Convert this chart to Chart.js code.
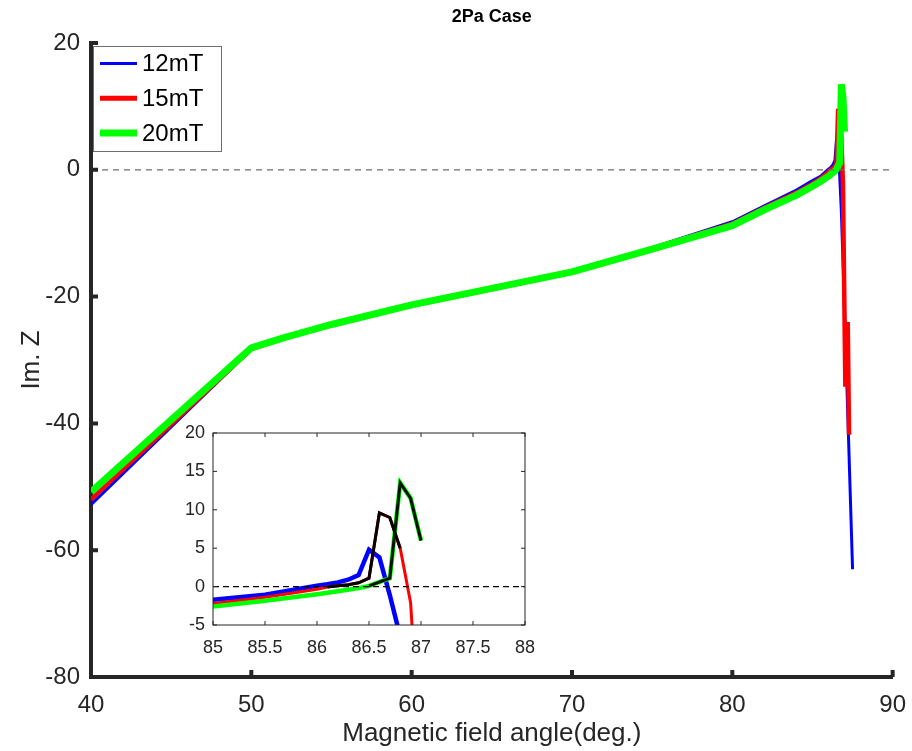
<!DOCTYPE html>
<html><head><meta charset="utf-8">
<script src="https://cdn.jsdelivr.net/npm/chart.js@4/dist/chart.umd.min.js"></script>
<style>
html,body{margin:0;padding:0;background:#fff;}
#wrap{position:relative;width:912px;height:751px;overflow:hidden;}
#mainBox{position:absolute;left:0;top:0;width:912px;height:751px;}
#insetBox{position:absolute;left:150px;top:415px;width:390px;height:255px;}
</style></head><body>
<div id="wrap">
<div id="mainBox"><canvas id="main"></canvas></div>
<div id="insetBox"><canvas id="inset"></canvas></div>
</div>
<script>
// ---------------- data ----------------
const seriesLabels = ['12mT', '15mT', '20mT'];
const xTicksMain = [40, 50, 60, 70, 80, 90];
const yTicksMain = [-80, -60, -40, -20, 0, 20];
const xTicksInset = [85, 85.5, 86, 86.5, 87, 87.5, 88];
const yTicksInset = [-5, 0, 5, 10, 15, 20];

const angles12 = [40, 50, 52, 55, 60, 65, 70, 75, 80, 82, 84, 85, 85.5, 86, 86.1, 86.2, 86.3, 86.4, 86.5, 86.6, 86.7, 86.8, 87.0, 87.25, 87.5];
const imZ12    = [-52.8, -28.3, -26.6, -24.5, -21.4, -18.8, -16.2, -12.3, -8.2, -5.7, -3.2, -1.7, -1.05, 0.1, 0.3, 0.55, 0.9, 1.5, 4.8, 3.8, -1.1, -6.5, -22.0, -42.5, -63.0];

const angles15 = [40, 50, 52, 55, 60, 65, 70, 75, 80, 82, 84, 85, 85.5, 86, 86.1, 86.2, 86.3, 86.4, 86.5, 86.6, 86.7, 86.8, 86.9, 87.05, 87.2, 87.28];
const imZ15    = [-52.0, -28.3, -26.6, -24.5, -21.4, -18.8, -16.2, -12.4, -8.5, -6.0, -3.6, -2.2, -1.4, -0.35, -0.05, 0.1, 0.25, 0.5, 1.1, 9.6, 9.0, 5.0, -2.1, -34.2, -24.0, -41.8];

const angles20 = [40, 50, 52, 55, 60, 65, 70, 75, 80, 82, 84, 85, 85.5, 86, 86.2, 86.4, 86.5, 86.7, 86.8, 86.9, 87.0];
const imZ20    = [-50.8, -28.1, -26.5, -24.4, -21.3, -18.7, -16.1, -12.5, -8.8, -6.3, -4.0, -2.6, -1.85, -1.0, -0.6, -0.2, 0.1, 1.1, 13.5, 11.5, 6.0];

// ranges of the inset drawn as black overlay
const blackRange15 = [86.1, 86.8];
const blackRange20 = [86.5, 87.0];

// ---------------- helpers ----------------
const FONT = "'Liberation Sans', Arial, Helvetica, sans-serif";
const AX = '#262626';
const pts = (xs, ys) => xs.map((x, i) => ({x: x, y: ys[i]}));
const sub = (xs, ys, r) => pts(xs, ys).filter(p => p.x >= r[0] - 1e-9 && p.x <= r[1] + 1e-9);
const fixedTicks = arr => function (scale) { scale.ticks = arr.map(v => ({value: v})); };
const plainNum = v => String(v);

const axisTicks = {
  id: 'axisTicks',
  afterDraw(chart, args, o) {
    if (!o || !o.len) return;
    const {ctx, chartArea: a, scales: {x, y}} = chart;
    ctx.save();
    ctx.strokeStyle = o.color; ctx.lineWidth = o.width;
    if (o.box) { ctx.strokeRect(a.left, a.top, a.right - a.left, a.bottom - a.top); }
    ctx.beginPath();
    x.ticks.forEach(t => {
      const px = x.getPixelForValue(t.value);
      ctx.moveTo(px, a.bottom); ctx.lineTo(px, a.bottom - o.len);
      if (o.mirror) { ctx.moveTo(px, a.top); ctx.lineTo(px, a.top + o.len); }
    });
    y.ticks.forEach(t => {
      const py = y.getPixelForValue(t.value);
      ctx.moveTo(a.left, py); ctx.lineTo(a.left + o.len, py);
      if (o.mirror) { ctx.moveTo(a.right, py); ctx.lineTo(a.right - o.len, py); }
    });
    ctx.stroke();
    ctx.restore();
  }
};

const whiteArea = {
  id: 'whiteArea',
  beforeDraw(chart, args, o) {
    if (!o || !o.on) return;
    const {ctx, chartArea: a} = chart;
    ctx.save(); ctx.fillStyle = '#fff';
    ctx.fillRect(a.left, a.top, a.right - a.left, a.bottom - a.top);
    ctx.restore();
  }
};

const boxLegend = {
  id: 'boxLegend',
  afterDraw(chart, args, o) {
    if (!o || !o.on) return;
    const ctx = chart.ctx;
    ctx.save();
    ctx.fillStyle = '#fff'; ctx.fillRect(o.x, o.y, o.w, o.h);
    ctx.strokeStyle = '#6e6e6e'; ctx.lineWidth = 1;
    ctx.strokeRect(o.x + 0.5, o.y + 0.5, o.w, o.h);
    ctx.font = o.size + 'px ' + FONT; ctx.textBaseline = 'middle'; ctx.textAlign = 'left';
    seriesLabels.forEach((lab, i) => {
      const d = chart.data.datasets.find(ds => ds.label === lab);
      const cy = o.y + o.first + i * o.step;
      ctx.strokeStyle = d.borderColor; ctx.lineWidth = o.widths[i];
      ctx.beginPath(); ctx.moveTo(o.x + 7, cy); ctx.lineTo(o.x + 44, cy); ctx.stroke();
      ctx.fillStyle = '#000';
      ctx.fillText(lab, o.x + 49, cy + 1);
    });
    ctx.restore();
  }
};

Chart.register(axisTicks, whiteArea, boxLegend);

// ---------------- main chart ----------------
new Chart(document.getElementById('main'), {
  type: 'line',
  data: {
    datasets: [
      {label: '', data: [{x: 40, y: 0}, {x: 90, y: 0}], borderColor: '#6e6e6e', borderWidth: 1.3, borderDash: [6, 5], pointRadius: 0, order: 0},
      {label: seriesLabels[2], data: pts(angles20, imZ20), borderColor: '#00ff00', borderWidth: 7, pointRadius: 0, order: 1, borderJoinStyle: 'bevel'},
      {label: seriesLabels[1], data: pts(angles15, imZ15), borderColor: '#ff0000', borderWidth: 4.5, pointRadius: 0, order: 2, borderJoinStyle: 'bevel'},
      {label: seriesLabels[0], data: pts(angles12, imZ12), borderColor: '#0000ff', borderWidth: 3, pointRadius: 0, order: 3, borderJoinStyle: 'bevel'}
    ]
  },
  options: {
    responsive: true, maintainAspectRatio: false, animation: false, devicePixelRatio: 1,
    layout: {padding: {top: 0, right: 19, bottom: 0, left: 0}},
    plugins: {
      legend: {display: false}, tooltip: {enabled: false},
      title: {display: true, fullSize: false, text: '2Pa Case', color: '#000', font: {family: FONT, size: 18, weight: 'bold'}, padding: {top: 6, bottom: 15.4}},
      axisTicks: {len: 7, width: 4, color: AX, mirror: false, box: false},
      boxLegend: {on: true, x: 93, y: 46, w: 128, h: 105, first: 17.5, step: 34.7, size: 24, widths: [3, 5, 7]}
    },
    scales: {
      x: {
        type: 'linear', min: 40, max: 90,
        afterBuildTicks: fixedTicks(xTicksMain),
        afterFit(scale) { scale.height = 74; },
        grid: {display: false},
        border: {display: true, color: AX, width: 4},
        ticks: {color: AX, font: {family: FONT, size: 24}, padding: 6, maxRotation: 0, callback: plainNum},
        title: {display: true, text: 'Magnetic field angle(deg.)', color: AX, font: {family: FONT, size: 26}, padding: {top: 0, bottom: 2}}
      },
      y: {
        type: 'linear', min: -80, max: 20,
        afterBuildTicks: fixedTicks(yTicksMain),
        afterFit(scale) { scale.width = 91; },
        grid: {display: false},
        border: {display: true, color: AX, width: 4},
        ticks: {color: AX, font: {family: FONT, size: 24}, padding: 3, callback: plainNum},
        title: {display: true, text: 'Im. Z', color: AX, font: {family: FONT, size: 26}, padding: {top: 16, bottom: 0}}
      }
    }
  }
});

// ---------------- inset chart ----------------
new Chart(document.getElementById('inset'), {
  type: 'line',
  data: {
    datasets: [
      {label: 'zero', data: [{x: 85, y: 0}, {x: 88, y: 0}], borderColor: '#000', borderWidth: 1.2, borderDash: [6, 4], pointRadius: 0, order: 0, clip: 0},
      {label: 'b20', data: sub(angles20, imZ20, blackRange20), borderColor: '#001100', borderWidth: 3, pointRadius: 0, order: 1, clip: 0},
      {label: 'b15', data: sub(angles15, imZ15, blackRange15), borderColor: '#000', borderWidth: 3, pointRadius: 0, order: 2, clip: 0},
      {label: 'g', data: pts(angles20, imZ20), borderColor: '#00ff00', borderWidth: 4.5, pointRadius: 0, order: 3, clip: 0},
      {label: 'r', data: pts(angles15, imZ15), borderColor: '#ff0000', borderWidth: 3, pointRadius: 0, order: 4, clip: 0},
      {label: 'b', data: pts(angles12, imZ12), borderColor: '#0000ff', borderWidth: 4.5, pointRadius: 0, order: 5, clip: 0}
    ]
  },
  options: {
    responsive: true, maintainAspectRatio: false, animation: false, devicePixelRatio: 1,
    layout: {padding: {top: 18, right: 15, bottom: 0, left: 0}},
    plugins: {
      legend: {display: false}, tooltip: {enabled: false},
      whiteArea: {on: true},
      axisTicks: {len: 4, width: 1, color: AX, mirror: true, box: true}
    },
    scales: {
      x: {
        type: 'linear', min: 85, max: 88,
        afterBuildTicks: fixedTicks(xTicksInset),
        afterFit(scale) { scale.height = 45; },
        grid: {display: false}, border: {display: false},
        ticks: {color: AX, font: {family: FONT, size: 18}, padding: 4, maxRotation: 0, callback: plainNum}
      },
      y: {
        type: 'linear', min: -5, max: 20,
        afterBuildTicks: fixedTicks(yTicksInset),
        afterFit(scale) { scale.width = 63; },
        grid: {display: false}, border: {display: false},
        ticks: {color: AX, font: {family: FONT, size: 18}, padding: 0, callback: plainNum}
      }
    }
  }
});
</script>
</body></html>
